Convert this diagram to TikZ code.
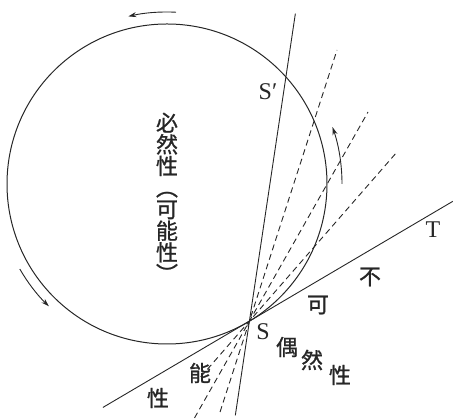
\documentclass[tikz,border=0pt]{standalone}
\usepackage{fontspec}
\setmainfont{Liberation Serif}
\newfontfamily\cjk[FakeBold=1]{Noto Sans CJK SC}
\usetikzlibrary{calc,arrows.meta}
\begin{document}
\begin{tikzpicture}[x=1pt,y=1pt,
  solidline/.style={line width=0.9pt, draw=black!85},
  dashline/.style={line width=0.9pt, draw=black!85, dash pattern=on 6pt off 4pt},
  motion/.style={line width=0.9pt, draw=black!85, -{Stealth[length=8pt,width=5pt]}},
  zh/.style={font=\cjk\fontsize{22}{22}\selectfont, inner sep=0pt, text=black!85},
  lat/.style={font=\fontsize{24}{24}\selectfont, inner sep=0pt, text=black!85}]
\useasboundingbox (0,0) rectangle (453,419);
% circle and key points
\coordinate (O) at (167,235);
\coordinate (S) at ($(O)+(-59:160)$);
\coordinate (Sp) at ($(O)+(42:160)$);
\draw[solidline, line width=1pt] (O) circle[radius=160];
% tangent S--T
\coordinate (Tend) at ($(S)+(30.5:236)$);
\coordinate (Tlow) at ($(S)+(210.5:170)$);
\draw[solidline] (Tlow) -- (Tend);
% chord through S and S'
\coordinate (Ctop) at ($(S)!1.259!(Sp)$);
\coordinate (Clow) at ($(S)!-0.386!(Sp)$);
\draw[solidline] (Clow) -- (Ctop);
% dashed lines through S
\coordinate (d1) at (337,369);
\coordinate (d2) at (368,307);
\coordinate (d3) at (397,267);
\coordinate (e1) at ($(S)!-0.335!(d1)$);
\coordinate (e2) at ($(S)!-0.463!(d2)$);
\coordinate (e3) at ($(S)!-0.33!(d3)$);
\draw[dashline] (e1) -- (d1);
\draw[dashline] (e2) -- (d2);
\draw[dashline] (e3) -- (d3);
% motion arrows
\draw[motion] ($(O)+(87:172)$) arc[start angle=87, end angle=103, radius=172];
\draw[motion] ($(O)+(210:170)$) arc[start angle=210, end angle=226, radius=170];
\draw[motion] ($(O)+(0:175)$) arc[start angle=0, end angle=19, radius=175];
% vertical label
\node[zh, align=center, font=\cjk\fontsize{22}{21.6}\selectfont] (vert) at (167,221.5)
  {必\\然\\性\\︵\\可\\能\\性\\︶};
% latin labels
\node[lat] (lSp) at (268,327) {S′};
\node[lat] (lT) at (433,189) {T};
\node[lat] (lS) at (263,87) {S};
% other labels
\node[zh] (b1) at (370,142) {不};
\node[zh] (b2) at (318,114) {可};
\node[zh] (o1) at (287,72) {偶};
\node[zh] (o2) at (312,59) {然};
\node[zh] (o3) at (340,44) {性};
\node[zh] (n1) at (200,46) {能};
\node[zh] (n2) at (158,21) {性};
\end{tikzpicture}
\end{document}
